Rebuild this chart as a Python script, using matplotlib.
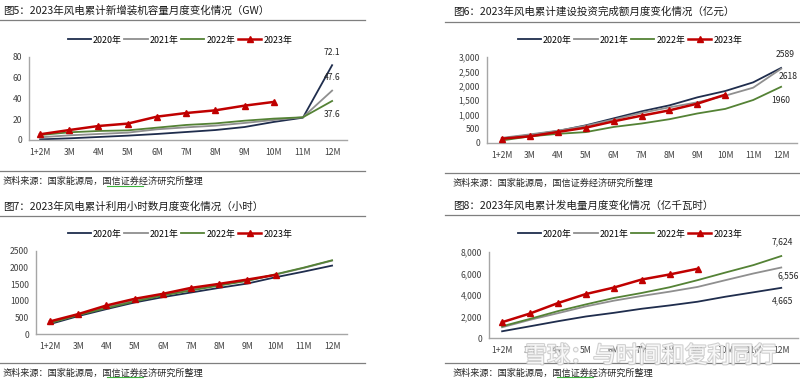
import matplotlib
matplotlib.use('Agg')
import matplotlib.pyplot as plt
from matplotlib.lines import Line2D
import matplotlib.patheffects as pe

plt.rcParams['font.family'] = ['Noto Sans CJK SC', 'DejaVu Sans']

months = ['1+2M', '3M', '4M', '5M', '6M', '7M', '8M', '9M', '10M', '11M', '12M']
years = ['2020年', '2021年', '2022年', '2023年']

# 图5 新增装机 (GW)
cap_2020 = [0.6, 1.6, 2.9, 4.2, 5.8, 7.7, 9.6, 12.5, 17.4, 21.5, 72.1]
cap_2021 = [2.6, 4.5, 5.8, 7.1, 10.3, 12.2, 13.8, 16.4, 19.3, 21.9, 47.6]
cap_2022 = [4.8, 7.4, 8.7, 9.3, 11.9, 14.5, 16.0, 18.6, 20.6, 21.9, 37.6]
cap_2023 = [5.5, 9.6, 13.5, 15.8, 22.5, 26.0, 28.6, 33.1, 36.7]

# 图6 建设投资完成额 (亿元)
inv_2020 = [160, 280, 419, 616, 860, 1105, 1314, 1593, 1814, 2116, 2618]
inv_2021 = [180, 300, 430, 600, 820, 1050, 1244, 1420, 1651, 1930, 2589]
inv_2022 = [90, 230, 320, 380, 560, 680, 830, 1030, 1190, 1500, 1960]
inv_2023 = [151, 233, 384, 535, 756, 953, 1140, 1372, 1686]

# 图7 利用小时数 (小时)
hrs_2020 = [300, 540, 750, 950, 1110, 1250, 1390, 1520, 1710, 1880, 2060]
hrs_2021 = [340, 580, 815, 1015, 1180, 1345, 1480, 1610, 1790, 1990, 2210]
hrs_2022 = [330, 570, 780, 980, 1160, 1310, 1460, 1600, 1800, 2000, 2220]
hrs_2023 = [380, 600, 860, 1060, 1210, 1390, 1510, 1640, 1780]

# 图8 发电量 (亿千瓦时)
gen_2020 = [625, 1090, 1560, 2000, 2340, 2720, 3030, 3375, 3840, 4250, 4665]
gen_2021 = [1000, 1690, 2310, 2940, 3470, 3910, 4310, 4750, 5380, 6000, 6556]
gen_2022 = [1090, 1780, 2500, 3125, 3720, 4190, 4720, 5380, 6090, 6780, 7624]
gen_2023 = [1470, 2280, 3250, 4090, 4690, 5440, 5910, 6440]

colors = ['#1f2d4d', '#8f8f8f', '#548235', '#c00000']
W, H = 800, 381

fig = plt.figure(figsize=(8, 3.81), dpi=100)


def px_axes(left, top, right, bottom):
    return fig.add_axes([left / W, 1 - bottom / H, (right - left) / W, (bottom - top) / H])


def hline(y, x0, x1, color='#7f7f7f', lw=0.9):
    fig.add_artist(Line2D([x0 / W, x1 / W], [1 - y / H, 1 - y / H], color=color, lw=lw))


def panel(box, xlim, series, yticks, ylabels, legend_xy, title, title_xy, rule_x, top_rule, bottom_rule, labels):
    ax = px_axes(*box)
    for i, vals in enumerate(series):
        x = list(range(len(vals)))
        if i == 3:
            ax.plot(x, vals, color=colors[i], lw=1.8, marker='^', ms=4.2, label=years[i], zorder=5)
        else:
            ax.plot(x, vals, color=colors[i], lw=1.3, label=years[i])
    ax.set_xlim(*xlim)
    ax.set_ylim(yticks[0], yticks[-1])
    ax.set_xticks(range(len(months)))
    ax.set_xticklabels(months)
    ax.set_yticks(yticks)
    ax.set_yticklabels(ylabels)
    ax.tick_params(length=0, labelsize=6.2, colors='#404040')
    ax.tick_params(axis='x', pad=6)
    ax.tick_params(axis='y', pad=5)
    for s in ['top', 'right']:
        ax.spines[s].set_visible(False)
    for s in ['left', 'bottom']:
        ax.spines[s].set_color('#a6a6a6')
        ax.spines[s].set_linewidth(1.0)
    ax.patch.set_alpha(0)
    ax.legend(loc='center', bbox_to_anchor=(legend_xy[0] / W, 1 - legend_xy[1] / H),
              bbox_transform=fig.transFigure, ncol=4, frameon=False, fontsize=6.4,
              handlelength=2.6, handletextpad=0.25, columnspacing=0.3, borderpad=0)
    for idx, txt, dx, dy in labels:
        vals = series[idx]
        ax.annotate(txt, xy=(len(vals) - 1, vals[-1]), xytext=(dx, dy), textcoords='offset points',
                    ha='center', va='center', fontsize=6.2, color='#262626', annotation_clip=False)
    fig.text(title_xy[0] / W, 1 - title_xy[1] / H, title, fontsize=7.6, color='#1a1a1a', va='center', ha='left')
    hline(top_rule, rule_x[0], rule_x[1])
    hline(bottom_rule, rule_x[0], rule_x[1])
    fig.text(title_xy[0] / W, 1 - (bottom_rule + 10) / H, '资料来源：国家能源局，国信证券经济研究所整理',
             fontsize=6.6, color='#262626', va='center', ha='left')
    return ax


panel((29, 57, 347, 140), (-0.38, 10.51), [cap_2020, cap_2021, cap_2022, cap_2023],
      [0, 20, 40, 60, 80], ['0', '20', '40', '60', '80'], (180, 40),
      '图5：2023年风电累计新增装机容量月度变化情况（GW）', (3, 11), (0, 365), 20, 171,
      [(0, '72.1', 0, 9.5), (1, '47.6', 0, 9.5), (2, '37.6', 0, -10)])

panel((487, 57, 797, 143), (-0.54, 10.57), [inv_2020, inv_2021, inv_2022, inv_2023],
      [0, 500, 1000, 1500, 2000, 2500, 3000],
      ['0', '500', '1,000', '1,500', '2,000', '2,500', '3,000'], (630, 40),
      '图6：2023年风电累计建设投资完成额月度变化情况（亿元）', (453, 12), (445, 800), 22, 173,
      [(0, '2589', 3, 9.5), (1, '2618', 5, -5.5), (2, '1960', 0, -9.5)])

panel((36, 251, 347, 334), (-0.5, 10.53), [hrs_2020, hrs_2021, hrs_2022, hrs_2023],
      [0, 500, 1000, 1500, 2000, 2500], ['0', '500', '1000', '1500', '2000', '2500'], (180, 234),
      '图7：2023年风电累计利用小时数月度变化情况（小时）', (3, 207), (0, 365), 216, 363, [])

panel((489, 252, 798, 338), (-0.47, 10.6), [gen_2020, gen_2021, gen_2022, gen_2023],
      [0, 2000, 4000, 6000, 8000], ['0', '2,000', '4,000', '6,000', '8,000'], (630, 234),
      '图8：2023年风电累计发电量月度变化情况（亿千瓦时）', (453, 206), (445, 800), 215, 363,
      [(2, '7,624', 1, 10), (1, '6,556', 5, -6), (0, '4,665', 1, -9.5)])

# spell-check squiggles under the source text
for x0, y in [(107, 186), (557, 377), (107, 377)]:
    hline(y, x0, x0 + 36, color='#3cb43c', lw=0.8)

# watermark
fig.text(650 / W, 1 - 356 / H, '雪球：与时间和复利同行', fontsize=16.5, color='white', alpha=0.85,
         ha='center', va='center',
         path_effects=[pe.withStroke(linewidth=1.6, foreground='#c8c8c8')])

fig.savefig('out.png', dpi=100)
